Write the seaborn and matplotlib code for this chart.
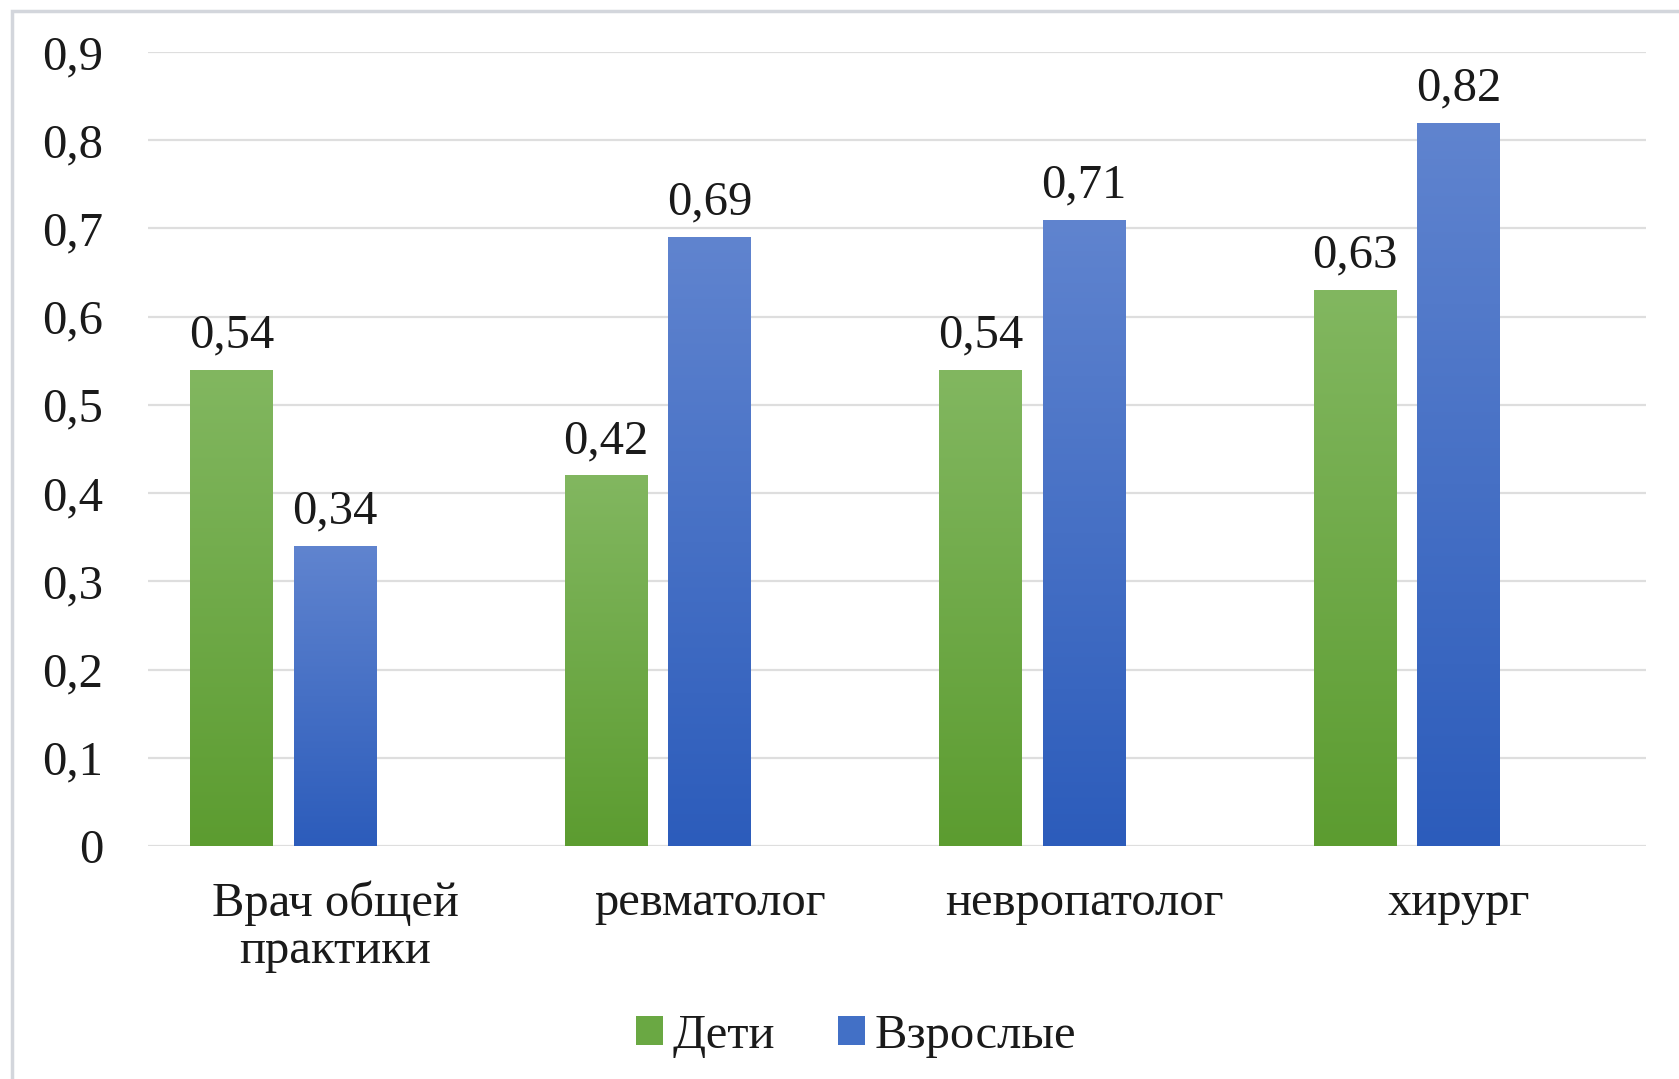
import numpy as np
import pandas as pd
import matplotlib
matplotlib.use("Agg")
import matplotlib.pyplot as plt
from matplotlib.colors import LinearSegmentedColormap
from matplotlib.patches import Patch, Rectangle
import seaborn as sns

# ---- data ----
categories = ["Врач общей\nпрактики", "ревматолог", "невропатолог", "хирург"]
series_names = ["Дети", "Взрослые"]
children = [0.54, 0.42, 0.54, 0.63]
adults = [0.34, 0.69, 0.71, 0.82]
y_ticks = [0, 0.1, 0.2, 0.3, 0.4, 0.5, 0.6, 0.7, 0.8, 0.9]
y_tick_labels = ["0", "0,1", "0,2", "0,3", "0,4", "0,5", "0,6", "0,7", "0,8", "0,9"]

# third (empty) series slot keeps the bar groups shifted left like the source workbook
spare_level = ""
hue_levels = series_names + [spare_level]

df = pd.DataFrame({
    "category": categories * 2,
    "series": [series_names[0]] * len(categories) + [series_names[1]] * len(categories),
    "value": children + adults,
})

base_colors = {"Дети": "#6aa843", "Взрослые": "#4270c6", spare_level: "#a5a5a5"}
gradients = {
    "Дети": ("#5c9c30", "#82b760"),
    "Взрослые": ("#2c5cbb", "#6084cf"),
}

sns.set_theme(style="white")
plt.rcParams["font.family"] = ["Liberation Serif", "DejaVu Serif"]
FS = 35

fig = plt.figure(figsize=(16.79, 10.79), dpi=100)
fig.patch.set_facecolor("white")
ax = fig.add_axes([0.0881, 0.2159, 0.9803 - 0.0881, 0.9518 - 0.2159])

sns.barplot(
    data=df, x="category", y="value", hue="series",
    order=categories, hue_order=hue_levels, palette=base_colors,
    width=0.832, gap=0.206, legend=False, ax=ax, errorbar=None,
    saturation=1.0, linewidth=0,
)

ax.set_ylim(0, 0.9)
xlim = ax.get_xlim()

# vertical gradient fill on each bar
grad = np.linspace(0, 1, 256).reshape(-1, 1)
for name, container in zip(series_names, ax.containers):
    c_bot, c_top = gradients[name]
    cmap = LinearSegmentedColormap.from_list(name, [c_bot, c_top])
    for bar in container:
        x0, y0 = bar.get_x(), bar.get_y()
        w, h = bar.get_width(), bar.get_height()
        im = ax.imshow(grad, extent=[x0, x0 + w, y0, y0 + h], origin="lower",
                       cmap=cmap, aspect="auto", interpolation="bicubic",
                       zorder=bar.get_zorder() + 0.1)
        im.set_clip_path(bar)
    ax.bar_label(container, fmt=lambda v: f"{v:.2f}".replace(".", ","),
                 padding=9, fontsize=FS, color="#1a1a1a")

ax.set_xlim(xlim)
ax.set_ylim(0, 0.9)

ax.set_yticks(y_ticks)
ax.set_yticklabels(y_tick_labels)
ax.yaxis.grid(True, color="#dedede", linewidth=1.6)
ax.set_axisbelow(True)
for s in ax.spines.values():
    s.set_visible(False)
ax.tick_params(axis="y", length=0, pad=32, labelsize=FS, labelcolor="#1a1a1a")
ax.tick_params(axis="x", length=0, pad=25, labelsize=FS, labelcolor="#1a1a1a")
for t in ax.get_xticklabels():
    t.set_linespacing(1.08)
ax.set_xlabel("")
ax.set_ylabel("")

handles = [Patch(facecolor=base_colors[n], edgecolor="none", label=n) for n in series_names]
fig.legend(handles=handles, loc="center", bbox_to_anchor=(0.51, 1 - 1036 / 1079),
           ncol=2, frameon=False, fontsize=FS, handlelength=0.55, handleheight=0.55,
           handletextpad=0.2, columnspacing=1.3, labelcolor="#1a1a1a")

# light frame around the chart area
fig.patches.append(Rectangle((12 / 1679, -0.05), 1.1, 1 - 11 / 1079 + 0.05,
                             transform=fig.transFigure, fill=False,
                             edgecolor="#d3d6dc", linewidth=2.5))

fig.savefig("out.png", dpi=100, facecolor="white")
